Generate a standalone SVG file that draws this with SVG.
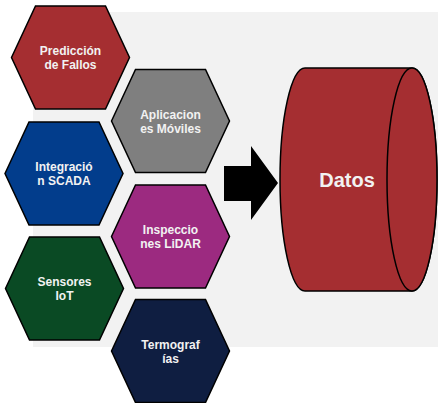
<svg xmlns="http://www.w3.org/2000/svg" width="438" height="403" viewBox="0 0 438 403">
<style>
.hex{stroke:#000;stroke-width:1.5;stroke-linejoin:miter}
.t{font-family:"Liberation Sans",Arial,sans-serif;font-weight:bold;font-size:12px;fill:#f2f2f2;text-anchor:middle}
</style>
<defs>
<polygon id="hx" points="-59,0 -35,-51.5 35,-51.5 59,0 35,51.5 -35,51.5"/>
</defs>
<rect x="0" y="0" width="438" height="403" fill="#ffffff"/>
<rect x="33" y="12" width="405" height="335" fill="#f2f2f2"/>
<g id="prediccion">
<use href="#hx" x="70.5" y="57.5" class="hex" fill="#a52e31"/>
<text class="t" x="70.5" y="55">Predicción</text>
<text class="t" x="70.5" y="69">de Fallos</text>
</g>
<g id="aplicaciones">
<use href="#hx" x="170.5" y="121" class="hex" fill="#7f7f7f"/>
<text class="t" x="170.5" y="118.5">Aplicacion</text>
<text class="t" x="170.5" y="132.5">es Móviles</text>
</g>
<g id="integracion">
<use href="#hx" x="64" y="173.5" class="hex" fill="#023d8c"/>
<text class="t" x="64" y="170.5">Integració</text>
<text class="t" x="64" y="184.5">n SCADA</text>
</g>
<g id="inspecciones">
<use href="#hx" x="170.5" y="236.5" class="hex" fill="#9c2a80"/>
<text class="t" x="170.5" y="234">Inspeccio</text>
<text class="t" x="170.5" y="248">nes LiDAR</text>
</g>
<g id="sensores">
<use href="#hx" x="64.5" y="288.5" class="hex" fill="#0a4a24"/>
<text class="t" x="64.5" y="286">Sensores</text>
<text class="t" x="64.5" y="300">IoT</text>
</g>
<g id="termografias">
<use href="#hx" x="170.5" y="351" class="hex" fill="#0f1e41"/>
<text class="t" x="170.5" y="348.5">Termograf</text>
<text class="t" x="170.5" y="362.5">ías</text>
</g>
<g id="connectors">
<polygon points="224,166 251,166 251,146 278,183 251,220 251,201 224,201" fill="#000"/>
</g>
<g id="datos">
<path d="M305,68 L412,68 A25,111.5 0 0 1 412,291 L305,291 A25,111.5 0 0 1 305,68 Z" fill="#a52e31" stroke="#000" stroke-width="1.5"/>
<ellipse cx="412" cy="179.5" rx="25" ry="111.5" fill="#a52e31" stroke="#000" stroke-width="1.5"/>
<text x="347" y="187" style="font-family:'Liberation Sans',Arial,sans-serif;font-weight:bold;font-size:20px;fill:#f2f2f2;text-anchor:middle">Datos</text>
</g>
</svg>
